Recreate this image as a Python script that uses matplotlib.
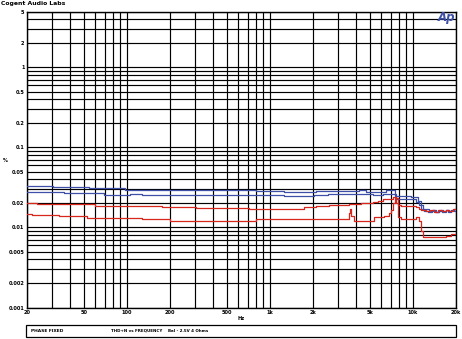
import matplotlib
matplotlib.use("Agg")
from matplotlib import pyplot as plt
import matplotlib.patches as mpatches
from matplotlib.ticker import LogLocator, NullFormatter

# x tick labels / y tick labels
x_ticks = [20, 50, 100, 200, 500, 1000, 2000, 5000, 10000, 20000]
x_labels = ["20", "50", "100", "200", "500", "1k", "2k", "5k", "10k", "20k"]
y_ticks = [0.001, 0.002, 0.005, 0.01, 0.02, 0.05, 0.1, 0.2, 0.5, 1, 2, 5]
y_labels = ["0.001", "0.002", "0.005", "0.01", "0.02", "0.05", "0.1", "0.2", "0.5", "1", "2", "5"]

# upper blue trace
blue1_f = [20, 30.6, 54.7, 97.7, 175, 796, 1251, 1727, 2096, 2800, 4194, 4696, 6486,
           7030, 7498, 8260, 9706, 10870, 11410, 11780, 12360, 13000, 13840, 14500,
           15300, 16200, 17070, 17640, 18600, 19300, 20000]
blue1_v = [0.0328, 0.0319, 0.0310, 0.0295, 0.0290, 0.0284, 0.0276, 0.0281, 0.0286, 0.0284,
           0.0292, 0.0280, 0.0290, 0.0292, 0.0250, 0.0245, 0.0240, 0.0215, 0.0190, 0.0172,
           0.0168, 0.0162, 0.0166, 0.0158, 0.0165, 0.0160, 0.0163, 0.0156, 0.0166, 0.0170,
           0.0168]

# lower blue trace
blue2_f = [20, 36.5, 69.6, 106, 128.5, 367, 475, 1251, 2029, 2545, 3138, 4548, 5258,
           6178, 7260, 7620, 8954, 10520, 11040, 11410, 12000, 12700, 13500, 14300,
           15100, 16000, 16900, 17800, 18700, 19400, 20000]
blue2_v = [0.0279, 0.0270, 0.0256, 0.0259, 0.0251, 0.0258, 0.0251, 0.0248, 0.0258, 0.0265,
           0.0265, 0.0262, 0.0255, 0.0262, 0.0265, 0.0230, 0.0224, 0.0210, 0.0190, 0.0170,
           0.0162, 0.0158, 0.0164, 0.0155, 0.0161, 0.0157, 0.0163, 0.0159, 0.0165, 0.0160,
           0.0172]

# upper red trace
red1_f = [20, 23.6, 36.5, 60.2, 175, 307, 605, 711, 1727, 2096, 2586, 3570, 4332, 5258,
          5698, 6178, 6808, 7260, 7620, 7868, 8260, 9706, 10520, 11040, 11410, 12300,
          13200, 14100, 15000, 16000, 17000, 18000, 19000, 20000]
red1_v = [0.0205, 0.0197, 0.0194, 0.0188, 0.0178, 0.0173, 0.0174, 0.0171, 0.0178, 0.0185,
          0.0192, 0.0198, 0.0200, 0.0208, 0.0215, 0.0224, 0.0228, 0.0240, 0.0205, 0.0192,
          0.0188, 0.0183, 0.0178, 0.0168, 0.0163, 0.0160, 0.0165, 0.0158, 0.0163, 0.0160,
          0.0166, 0.0161, 0.0168, 0.0170]

# lower red trace
red2_f = [20, 21.8, 33.7, 52.9, 80.5, 128.5, 202, 796, 1784, 3400, 3570, 3628, 3700,
          3870, 5258, 5343, 6278, 6808, 7030, 7260, 7498, 7868, 8260, 9706, 10520, 11040,
          11410, 11780, 12360, 14070, 17070, 18600, 20000]
red2_v = [0.01466, 0.0143, 0.0139, 0.0133, 0.0130, 0.0126, 0.0122, 0.0126, 0.0128, 0.0128,
          0.0150, 0.0168, 0.0140, 0.0122, 0.0122, 0.0136, 0.0140, 0.0150, 0.0165, 0.0200,
          0.0235, 0.0134, 0.0126, 0.0126, 0.0137, 0.0120, 0.0090, 0.0077, 0.0075, 0.0076,
          0.0079, 0.0082, 0.0084]

blue = "#3d4fa6"
red = "#d7261c"

fig = plt.figure(figsize=(4.62, 3.39), dpi=100)
ax = fig.add_axes([26.7 / 462, 1 - 307.5 / 339, (456 - 26.7) / 462, (307.5 - 11.5) / 339])

ax.set_xscale("log")
ax.set_yscale("log")
ax.set_xlim(20, 20000)
ax.set_ylim(0.001, 5)

ax.xaxis.set_minor_locator(LogLocator(base=10, subs=range(1, 10), numticks=20))
ax.yaxis.set_minor_locator(LogLocator(base=10, subs=range(1, 10), numticks=20))
ax.xaxis.set_minor_formatter(NullFormatter())
ax.yaxis.set_minor_formatter(NullFormatter())
ax.set_xticks(x_ticks)
ax.set_xticklabels(x_labels)
ax.set_yticks(y_ticks)
ax.set_yticklabels(y_labels)
ax.tick_params(which="both", length=0, labelsize=3.6, pad=1.5)
for lab in ax.get_xticklabels() + ax.get_yticklabels():
    lab.set_fontweight("bold")
ax.grid(True, which="both", color="black", linewidth=0.85)
for s in ax.spines.values():
    s.set_linewidth(1.0)
    s.set_color("black")

# traces
ax.plot(blue1_f, blue1_v, color=blue, lw=0.9, drawstyle="steps-post", zorder=3)
ax.plot(blue2_f, blue2_v, color=blue, lw=0.9, drawstyle="steps-post", zorder=3)
ax.plot(red1_f, red1_v, color=red, lw=0.9, drawstyle="steps-post", zorder=3)
ax.plot(red2_f, red2_v, color=red, lw=0.9, drawstyle="steps-post", zorder=3)

ax.set_xlabel("Hz", fontsize=3.6, fontweight="bold", labelpad=1)
fig.text(5 / 462, 1 - 160 / 339, "%", fontsize=3.6, fontweight="bold", ha="center", va="center")

# header
fig.text(1 / 462, 1 - 4 / 339, "Cogent Audio Labs", fontsize=4.4, fontweight="bold",
         ha="left", va="center")
fig.text(447 / 462, 1 - 18 / 339, "Ap", fontsize=8.5, fontweight="bold", style="italic",
         color=blue, ha="center", va="center")

# footer box
rect = mpatches.Rectangle((26 / 462, 1 - 336.5 / 339), (456 - 26) / 462, 12 / 339,
                          transform=fig.transFigure, fill=False, ec="black", lw=0.9)
fig.patches.append(rect)
fig.text(31 / 462, 1 - 330.5 / 339, "PHASE FIXED", fontsize=3.2, fontweight="bold",
         ha="left", va="center")
fig.text(111 / 462, 1 - 330.5 / 339, "THD+N vs FREQUENCY", fontsize=2.9, fontweight="bold",
         ha="left", va="center")
fig.text(168 / 462, 1 - 330.5 / 339, "Bal - 2.5V 4 Ohms", fontsize=2.9, fontweight="bold",
         ha="left", va="center")

fig.savefig("out.png", dpi=100)
